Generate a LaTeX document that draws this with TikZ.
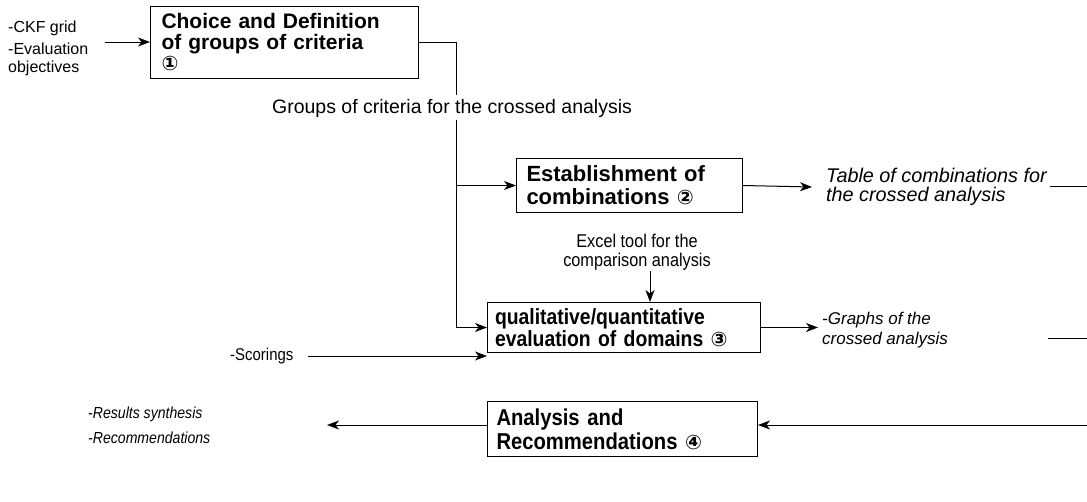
\documentclass[tikz,border=0pt]{standalone}
\usepackage{fontspec}
\setmainfont{Liberation Sans}
\newfontfamily\narrow{Liberation Sans}[FakeStretch=0.88]
\newfontfamily\dejavu{DejaVu Sans}
\usetikzlibrary{arrows.meta,calc}
\tikzset{
  box/.style={draw, line width=1pt, anchor=north west, inner sep=0pt, align=left},
  lbl/.style={inner sep=0pt, align=left, anchor=west},
  conn/.style={line width=1pt},
  arr/.style={conn, -{Stealth[length=12pt,width=9pt,inset=3.5pt]}}
}
\newcommand{\cnum}[1]{{\dejavu\bfseries\fontsize{20}{21}\selectfont #1}}
\begin{document}
\begin{tikzpicture}[x=1pt,y=-1pt]
\useasboundingbox (0,0) rectangle (1087,501);
\clip (0,0) rectangle (1087,501);
% inputs
\node[lbl, font=\fontsize{16}{18}\selectfont] (ckf) at (8,28) {-CKF grid};
\node[lbl, font=\fontsize{16}{18}\selectfont] (evo) at (8,59) {-Evaluation\\objectives};
% box 1
\node[box, minimum width=268pt, minimum height=72pt, text width=246pt,
      font=\fontsize{21}{21}\selectfont\bfseries] (b1) at (150,6)
  {Choice and Definition\\of groups of criteria\\\cnum{①}};
\coordinate (in1) at (105,42);
\draw[arr] (in1) -- (in1 -| b1.west);
% trunk
\coordinate (j1) at (456,95);
\coordinate (j2) at (456,120);
\draw[conn] (b1.east) -| (j1);
\node[inner sep=0pt, font=\fontsize{19.5}{22}\selectfont] (glab) at (452,108) {Groups of criteria for the crossed analysis};
% box 2
\node[box, minimum width=226pt, minimum height=54pt, text width=206pt,
      font=\fontsize{22}{23}\selectfont\bfseries] (b2) at (516,158)
  {Establishment of\\combinations \cnum{②}};
% box 3
\node[box, minimum width=273pt, minimum height=50pt, text width=258pt,
      font=\fontsize{22}{22}\narrow\bfseries] (b3) at (487,302)
  {qualitative/quantitative\\evaluation of domains \cnum{③}};
\draw[arr] (j2) |- (b3.west);
\draw[arr] (b2.west -| j2) -- (b2.west);
% outputs of box 2
\node[lbl, font=\fontsize{19.8}{19}\selectfont\itshape] (tab) at (826,187) {Table of combinations for\\the crossed analysis};
\draw[arr] (b2.east) -- ([xshift=-14pt]tab.west);
\coordinate (f1a) at (1050,186);
\coordinate (f1b) at (1090,186);
\draw[conn] (f1a) -- (f1b);
% excel tool
\node[inner sep=0pt, align=center, font=\fontsize{18.5}{19}\narrow] (xl) at (637,252) {Excel tool for the\\comparison analysis};
\coordinate (xa) at (650,271);
\draw[arr] (xa) -- (xa |- b3.north);
% outputs of box 3
\node[lbl, font=\fontsize{17}{20}\selectfont\itshape] (gr) at (822,330) {-Graphs of the\\crossed analysis};
\draw[arr] (b3.east) -- ([xshift=-4pt]gr.west |- b3.east);
\coordinate (f2a) at (1048,338);
\coordinate (f2b) at (1090,338);
\draw[conn] (f2a) -- (f2b);
% scorings
\node[lbl, font=\fontsize{17}{20}\narrow] (sc) at (230,356) {-Scorings};
\draw[arr] ([xshift=14pt]sc.east) -- (sc.east -| b3.west);
% box 4
\node[box, minimum width=270pt, minimum height=55pt, text width=252pt,
      font=\fontsize{23}{24}\narrow\bfseries] (b4) at (487,401)
  {Analysis and\\Recommendations \cnum{④}};
\coordinate (r4) at (1090,425);
\draw[arr] (r4) -- (r4 -| b4.east);
\coordinate (l4) at (327,425);
\draw[arr] (l4 -| b4.west) -- (l4);
\node[lbl, font=\fontsize{16}{25}\narrow\itshape] (res) at (88,425) {-Results synthesis\\-Recommendations};
\end{tikzpicture}
\end{document}
